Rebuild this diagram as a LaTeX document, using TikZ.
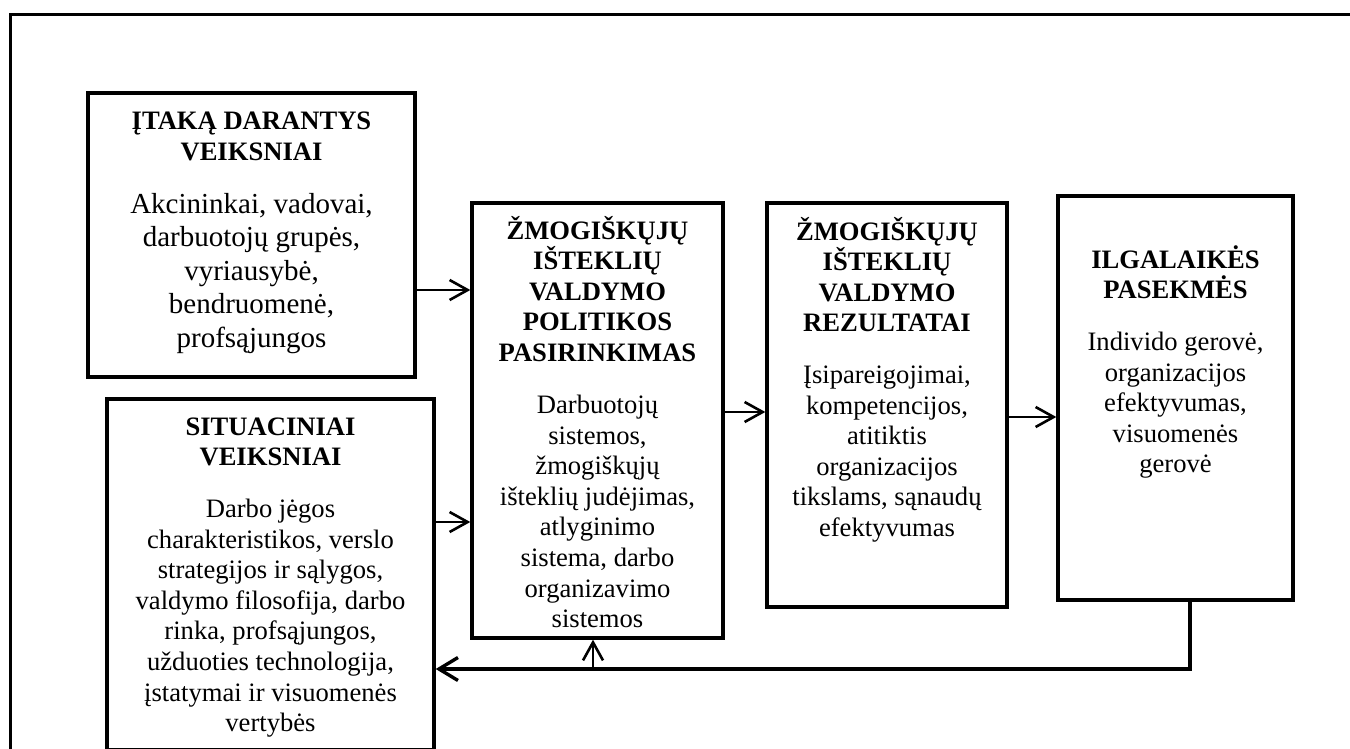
\documentclass[tikz,border=0pt]{standalone}
\usepackage{fontspec}
\setmainfont{Liberation Serif}
\usetikzlibrary{arrows.meta}
% zero-width strut that fixes the height of a text block's first line
\newcommand\firstln{\rule{0pt}{13pt}}
\begin{document}
\begin{tikzpicture}[x=0.5pt,y=-0.5pt,
  box/.style={draw, line width=1.7pt, rectangle, inner sep=0pt},
  ttl/.style={anchor=north, inner sep=0pt, align=center, yshift=13pt,
    font=\fontsize{13.3pt}{15.2pt}\selectfont\bfseries},
  bdy/.style={anchor=north, inner sep=0pt, align=center, yshift=13pt,
    font=\fontsize{13.3pt}{15.3pt}\selectfont},
  bdybig/.style={bdy, font=\fontsize{14.5pt}{16.75pt}\selectfont},
  arr/.style={line width=1.3pt, -{Straight Barb[length=9pt,width=10pt]}},
  fbk/.style={line width=1.7pt, -{Straight Barb[length=9.5pt,width=11.5pt]}},
  frame/.style={line width=1.5pt},
]
\useasboundingbox (0,0) rectangle (1350,749);
\clip (0,0) rectangle (1350,749);

% outer frame
\draw[frame] (10,760) -- (10,15) -- (1360,15);

% boxes
\node[box, minimum width=163.5pt, minimum height=142pt]   (b1) at (251.5,235) {};
\node[box, minimum width=163.5pt, minimum height=175.5pt] (b2) at (270.5,574.5) {};
\node[box, minimum width=125.5pt, minimum height=217.5pt] (b3) at (597.5,420.5) {};
\node[box, minimum width=120pt,   minimum height=202pt]   (b4) at (887,405) {};
\node[box, minimum width=117.5pt, minimum height=202pt]   (b5) at (1175.5,398) {};

% texts
\node[ttl] (t1) at (251.5,129.5) {\firstln ĮTAKĄ DARANTYS\\VEIKSNIAI};
\node[bdybig] (d1) at (251.5,213) {\firstln Akcininkai, vadovai,\\darbuotojų grupės,\\vyriausybė,\\bendruomenė,\\profsąjungos};

\node[ttl] (t2) at (270.5,435) {\firstln SITUACINIAI\\VEIKSNIAI};
\node[bdy] (d2) at (270.5,517) {\firstln Darbo jėgos\\charakteristikos, verslo\\strategijos ir sąlygos,\\valdymo filosofija, darbo\\rinka, profsąjungos,\\užduoties technologija,\\įstatymai ir visuomenės\\vertybės};

\node[ttl] (t3) at (597.5,239) {\firstln ŽMOGIŠKŲJŲ\\IŠTEKLIŲ\\VALDYMO\\POLITIKOS\\PASIRINKIMAS};
\node[bdy] (d3) at (597.5,413) {\firstln Darbuotojų\\sistemos,\\žmogiškųjų\\išteklių judėjimas,\\atlyginimo\\sistema, darbo\\organizavimo\\sistemos};

\node[ttl] (t4) at (887,240) {\firstln ŽMOGIŠKŲJŲ\\IŠTEKLIŲ\\VALDYMO\\REZULTATAI};
\node[bdy] (d4) at (887,383) {\firstln Įsipareigojimai,\\kompetencijos,\\atitiktis\\organizacijos\\tikslams, sąnaudų\\efektyvumas};

\node[ttl] (t5) at (1175.5,268) {\firstln ILGALAIKĖS\\PASEKMĖS};
\node[bdy] (d5) at (1175.5,350) {\firstln Individo gerovė,\\organizacijos\\efektyvumas,\\visuomenės\\gerovė};

% connector levels
\coordinate (r1) at (0,290);
\coordinate (r2) at (0,522);
\coordinate (r3) at (0,412);
\coordinate (r4) at (0,417);
\coordinate (fb) at (1190,669);
\coordinate (up) at (593,669);

% connectors
\draw[arr] (b1.east |- r1) -- (b3.west |- r1);
\draw[arr] (b2.east |- r2) -- (b3.west |- r2);
\draw[arr] (b3.east |- r3) -- (b4.west |- r3);
\draw[arr] (b4.east |- r4) -- (b5.west |- r4);
% feedback loop: heavier drop from the last box, then back to the left
\draw[line width=2.1pt, line cap=rect] (b5.south -| fb) -- (fb);
\draw[fbk] (fb) -- (b2.east |- fb);
\draw[arr] (up) -- (b3.south -| up);
\end{tikzpicture}
\end{document}
